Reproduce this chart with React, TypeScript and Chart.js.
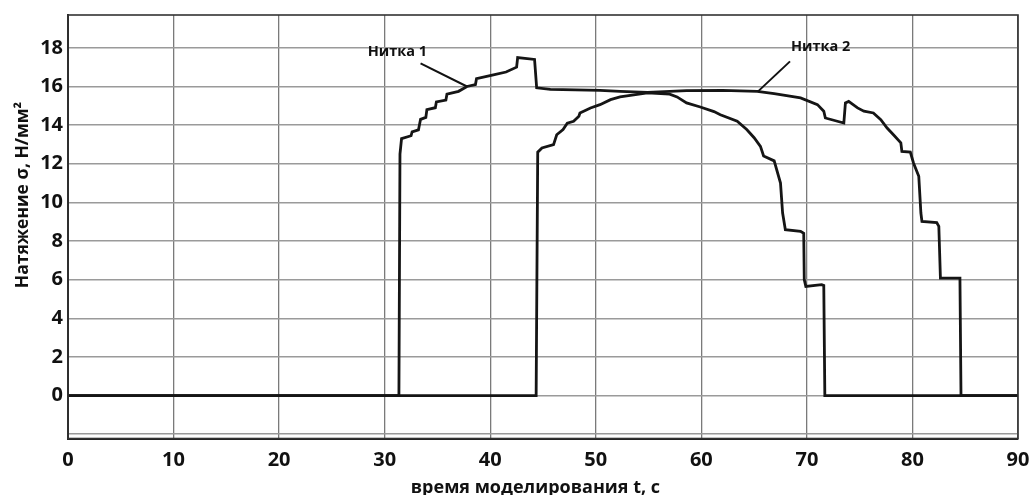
import React, { useEffect, useRef } from 'react';
import { Chart, registerables } from 'chart.js';

Chart.register(...registerables);

// Нитка 1 (outer curve): time, s
const thread1Time = [
  0, 31.35, 31.45, 31.6, 32.5, 32.6, 33.2, 33.4, 33.9, 34.0, 34.8, 34.9, 35.8, 35.9, 37.0, 37.8,
  38.6, 38.7, 40.3, 41.5, 42.5, 42.6, 44.2, 44.4, 45.7, 50.4, 52.3, 54.9, 58.6, 62.0, 65.3, 66.9,
  69.4, 71.0, 71.6, 71.75, 73.5, 73.65, 73.96, 74.8, 75.4, 76.3, 77.0, 77.6, 78.2, 78.9, 79.0, 79.8,
  80.1, 80.6, 80.8, 80.9, 82.3, 82.5, 82.65, 84.5, 84.6, 90,
];
const thread1Tension = [
  0, 0, 12.5, 13.3, 13.45, 13.65, 13.75, 14.3, 14.4, 14.8, 14.9, 15.2, 15.3, 15.6, 15.75, 16.0,
  16.1, 16.4, 16.6, 16.75, 17.0, 17.5, 17.4, 15.93, 15.85, 15.8, 15.75, 15.7, 15.79, 15.8, 15.75, 15.63,
  15.41, 15.06, 14.72, 14.37, 14.11, 15.15, 15.23, 14.89, 14.72, 14.63, 14.28, 13.85, 13.5, 13.08, 12.64, 12.6,
  12.04, 11.35, 9.45, 9.02, 8.96, 8.76, 6.08, 6.08, 0, 0,
];

// Нитка 2 (inner curve)
const thread2Time = [
  0, 44.35, 44.5, 44.9, 46.0, 46.3, 46.9, 47.3, 47.9, 48.4, 48.5, 49.5, 50.4, 51.4, 52.3, 54.9,
  57.0, 57.7, 58.6, 59.9, 61.2, 61.8, 63.4, 64.3, 65.0, 65.6, 65.9, 66.9, 67.5, 67.7, 67.96, 69.4,
  69.7, 69.75, 69.9, 71.4, 71.6, 71.7, 90,
];
const thread2Tension = [
  0, 0, 12.6, 12.82, 12.99, 13.5, 13.77, 14.1, 14.2, 14.46, 14.63, 14.89, 15.06, 15.32, 15.46, 15.67,
  15.6, 15.46, 15.15, 14.94, 14.7, 14.54, 14.2, 13.77, 13.35, 12.9, 12.4, 12.15, 11.0, 9.45, 8.59, 8.5,
  8.4, 6.0, 5.65, 5.74, 5.7, 0, 0,
];

const xTickValues = [0, 10, 20, 30, 40, 50, 60, 70, 80, 90];
const yTickValues = [-2, 0, 2, 4, 6, 8, 10, 12, 14, 16, 18];

const xTitle = 'время моделирования t, с';
const yTitle = 'Натяжение σ, Н/мм²';

// callouts, in data units (t, σ)
const callouts = [
  { text: 'Нитка 1', t: 31.2, s: 17.8, fromT: 33.4, fromS: 17.2, toT: 37.8, toS: 16.0 },
  { text: 'Нитка 2', t: 71.3, s: 18.05, fromT: 68.4, fromS: 17.3, toT: 65.4, toS: 15.76 },
];

const FONT = "'Open Sans', 'DejaVu Sans', sans-serif";

export default function App() {
  const ref = useRef<HTMLCanvasElement | null>(null);

  useEffect(() => {
    if (!ref.current) return;

    const framePlugin = {
      id: 'frame',
      afterDatasetsDraw(chart: any) {
        const { ctx, chartArea } = chart;
        ctx.save();
        ctx.strokeStyle = '#333';
        ctx.lineWidth = 1.6;
        ctx.strokeRect(chartArea.left, chartArea.top, chartArea.right - chartArea.left, chartArea.bottom - chartArea.top);
        const xs = chart.scales.x;
        const ys = chart.scales.y;
        ctx.fillStyle = '#111';
        ctx.strokeStyle = '#111';
        ctx.lineWidth = 2;
        ctx.font = `bold 14.5px ${FONT}`;
        ctx.textAlign = 'center';
        ctx.textBaseline = 'middle';
        callouts.forEach((c) => {
          ctx.fillText(c.text, xs.getPixelForValue(c.t), ys.getPixelForValue(c.s));
          ctx.beginPath();
          ctx.moveTo(xs.getPixelForValue(c.fromT), ys.getPixelForValue(c.fromS));
          ctx.lineTo(xs.getPixelForValue(c.toT), ys.getPixelForValue(c.toS));
          ctx.stroke();
        });
        // axis titles
        ctx.font = `bold 18px ${FONT}`;
        ctx.fillText(xTitle, chartArea.left + (chartArea.right - chartArea.left) * 0.492, chartArea.bottom + 49.5);
        ctx.translate(23, chartArea.top + (chartArea.bottom - chartArea.top) * 0.425);
        ctx.rotate(-Math.PI / 2);
        ctx.font = `bold 17.5px ${FONT}`;
        ctx.fillText(yTitle, 0, 0);
        ctx.restore();
      },
    };

    const mk = (ts: number[], vs: number[]) => ts.map((t, i) => ({ x: t, y: vs[i] }));

    const chart = new Chart(ref.current, {
      type: 'line',
      data: {
        datasets: [
          {
            label: 'Нитка 1',
            data: mk(thread1Time, thread1Tension),
            borderColor: '#151515',
            borderWidth: 2.8,
            pointRadius: 0,
            tension: 0,
            fill: false,
          },
          {
            label: 'Нитка 2',
            data: mk(thread2Time, thread2Tension),
            borderColor: '#151515',
            borderWidth: 2.8,
            pointRadius: 0,
            tension: 0,
            fill: false,
          },
        ],
      },
      options: {
        animation: false,
        responsive: false,
        maintainAspectRatio: false,
        layout: { padding: { left: 0, right: 14, top: 15, bottom: 0 } },
        plugins: {
          legend: { display: false },
          tooltip: { enabled: false },
        },
        scales: {
          x: {
            type: 'linear',
            min: 0,
            max: 90,
            afterFit: (s: any) => {
              s.height = 56.5;
              s.paddingLeft = 0;
              s.paddingRight = 0;
            },
            afterBuildTicks: (s: any) => {
              s.ticks = xTickValues.map((v) => ({ value: v }));
            },
            ticks: {
              color: '#111',
              font: { family: FONT, size: 20, weight: 'bold' },
              padding: 10,
              maxRotation: 0,
              autoSkip: false,
            },
            grid: { color: '#7a7a7a', lineWidth: 1.3, drawTicks: false },
            border: { display: true, color: '#222', width: 2 },
          },
          y: {
            type: 'linear',
            min: -2.22,
            max: 19.7,
            afterFit: (s: any) => {
              s.width = 68;
              s.paddingTop = 0;
              s.paddingBottom = 0;
            },
            afterBuildTicks: (s: any) => {
              s.ticks = yTickValues.map((v) => ({ value: v }));
            },
            ticks: {
              color: '#111',
              font: { family: FONT, size: 20, weight: 'bold' },
              padding: 5,
              autoSkip: false,
              callback: (v: any) => (Number(v) < 0 ? '' : String(v)),
            },
            grid: { color: '#9a9a9a', lineWidth: 1.6, drawTicks: false },
            border: { display: true, color: '#222', width: 2 },
          },
        },
      },
      plugins: [framePlugin],
    });

    return () => chart.destroy();
  }, []);

  return (
    <div style={{ position: 'fixed', left: 0, top: 0, width: 1032, height: 495, background: '#fff' }}>
      <canvas ref={ref} width={1032} height={495} style={{ width: 1032, height: 495 }} />
    </div>
  );
}
